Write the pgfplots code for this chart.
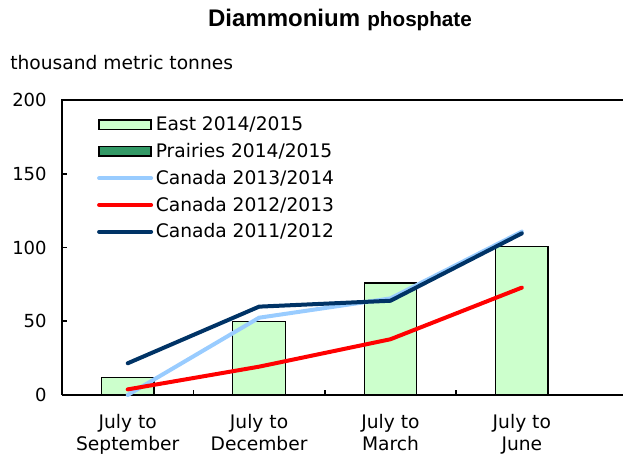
\documentclass[border=0pt]{standalone}
\usepackage{fontspec}
\setmainfont{DejaVu Sans}
\newfontfamily\titlefont{Liberation Sans}
\usepackage{pgfplots}
\pgfplotsset{compat=1.18}
\definecolor{eastc}{HTML}{CCFFCC}
\definecolor{prairc}{HTML}{339966}
\definecolor{lblue}{HTML}{99CCFF}
\definecolor{navy}{HTML}{003366}
\pgfplotsset{
  barleg/.style={legend image code/.code={\draw[##1] (0pt,-3.5pt) rectangle (39pt,3.5pt);}},
  lineleg/.style={legend image code/.code={\draw[##1] (0pt,0pt) -- (39pt,0pt);}},
}
\begin{document}
\begin{tikzpicture}[x=0.75pt,y=0.75pt]
\useasboundingbox (0,0) rectangle (623,460);
\node[anchor=center] at (340,440) {\titlefont\bfseries\fontsize{18}{20}\selectfont Diammonium\hspace{0.3em}\fontsize{15.5}{18}\selectfont phosphate};
\node[anchor=west, inner sep=0pt] at (10,397) {\fontsize{14}{16}\selectfont thousand metric tonnes};
\begin{axis}[
  name=ax,
  at={(46.5pt,48.75pt)}, anchor=south west,
  scale only axis, width=420.75pt, height=221.25pt,
  xmin=-0.5, xmax=3.77, ymin=0, ymax=200,
  axis x line*=bottom, axis y line*=left,
  axis line style={line width=1.6pt},
  every tick/.style={black, line width=1.2pt},
  tick align=inside,
  major tick length=4pt, minor tick length=4pt,
  xtick={0,1,2,3},
  xticklabels={{July to\\September},{July to\\December},{July to\\March},{July to\\June}},
  xticklabel style={align=center, font=\fontsize{14}{16.5}\selectfont, yshift=-10.75pt},
  x tick style={draw=none},
  minor xtick={0.5,1.5,2.5},
  minor x tick style={draw=black, line width=1.2pt},
  ytick={0,50,100,150,200},
  yticklabel style={font=\fontsize{13.5}{16}\selectfont, xshift=-8pt},
  /pgf/number format/assume math mode=true,
  clip=false,
  legend cell align=left,
  legend style={draw=none, fill=none, at={(0.055,0.962)}, anchor=north west,
    font=\fontsize{14}{16}\selectfont, row sep=3.95pt},
]
\addplot[ybar, bar width=0.4, fill=eastc, draw=black, line width=1pt, barleg]
  coordinates {(0,12) (1,50) (2,76) (3,100.5)};
\addlegendentry{East 2014/2015}
\addlegendimage{fill=prairc, draw=black, line width=1pt, barleg}
\addlegendentry{Prairies 2014/2015}
\addplot[lblue, line width=3pt, line cap=round, lineleg]
  coordinates {(0,0) (1,52.4) (2,65.5) (3,110.8)};
\addlegendentry{Canada 2013/2014}
\addplot[red, line width=3pt, line cap=round, lineleg]
  coordinates {(0,3.8) (1,19.2) (2,37.8) (3,72.8)};
\addlegendentry{Canada 2012/2013}
\addplot[navy, line width=3pt, line cap=round, lineleg]
  coordinates {(0,21.5) (1,59.9) (2,63.9) (3,109.6)};
\addlegendentry{Canada 2011/2012}
\end{axis}
\draw[line width=1.6pt, line cap=rect] (ax.north west) -- (ax.north east);
\end{tikzpicture}
\end{document}
